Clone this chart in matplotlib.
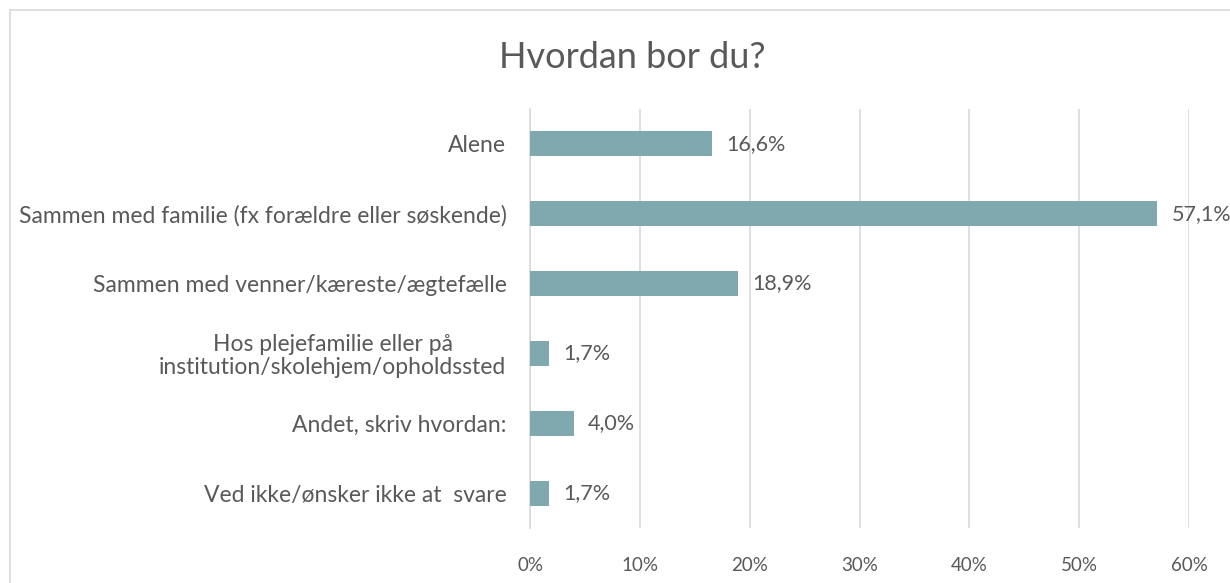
import matplotlib.pyplot as plt
from matplotlib.patches import Rectangle

# data
categories = [
    "Alene",
    "Sammen med familie (fx forældre eller søskende)",
    "Sammen med venner/kæreste/ægtefælle",
    "Hos plejefamilie eller på\ninstitution/skolehjem/opholdssted",
    "Andet, skriv hvordan:",
    "Ved ikke/ønsker ikke at  svare",
]
values = [16.6, 57.1, 18.9, 1.7, 4.0, 1.7]
xticks = [0, 10, 20, 30, 40, 50, 60]

text_color = "#595959"
bar_color = "#7FA9AE"
grid_color = "#D9D9D9"

plt.rcParams['font.family'] = ['Lato', 'DejaVu Sans']

fig = plt.figure(figsize=(12.3, 5.83), dpi=100)
ax = fig.add_axes([530 / 1230, 1 - 528 / 583, (1189 - 530) / 1230, (528 - 109) / 583])

# chart border (cut off on the right and bottom like the original)
fig.patches.append(Rectangle((10 / 1230, -0.1), 1.2, 1 - 10 / 583 + 0.1,
                             transform=fig.transFigure, fill=False,
                             edgecolor="#D9D9D9", linewidth=1.2))

ypos = list(range(len(categories)))
ax.barh(ypos, values, height=0.36, color=bar_color, zorder=3)
ax.set_ylim(len(categories) - 0.5, -0.5)
ax.set_xlim(0, 60)

for y, v in zip(ypos, values):
    ax.text(v + 1.3, y, f"{v:.1f}".replace(".", ",") + "%", va="center", ha="left",
            fontsize=15.5, color=text_color, clip_on=False)

ax.set_xticks(xticks)
ax.set_xticklabels([f"{t}%" for t in xticks], fontsize=13.5, color=text_color)
ax.set_yticks(ypos)
ax.set_yticklabels(categories, fontsize=16.5, color=text_color, multialignment="center",
                   linespacing=1.1)
ax.tick_params(axis="both", length=0)
ax.tick_params(axis="x", pad=21)
ax.tick_params(axis="y", pad=17)

ax.grid(axis="x", color=grid_color, linewidth=1.2, zorder=0)
for s in ["top", "right", "bottom"]:
    ax.spines[s].set_visible(False)
ax.spines["left"].set_color(grid_color)
ax.spines["left"].set_linewidth(1.2)

fig.text(632 / 1230, 1 - 58 / 583, "Hvordan bor du?", ha="center", va="center",
         fontsize=26, color=text_color)

fig.savefig("out.png", dpi=100)
